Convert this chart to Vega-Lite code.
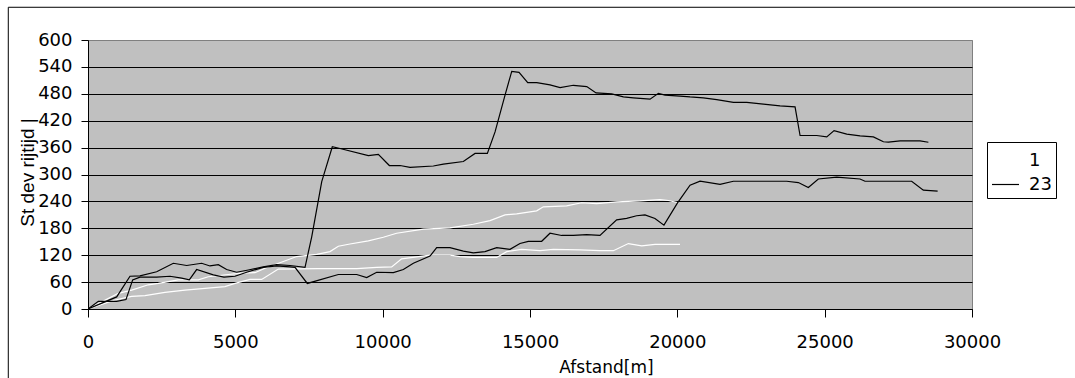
{
  "$schema": "https://vega.github.io/schema/vega-lite/v6.json",
  "width": 884,
  "height": 269,
  "autosize": {"type": "none"},
  "padding": {"left": 88, "top": 40, "right": 103, "bottom": 69},
  "background": "white",
  "config": {
    "view": {"fill": "#C0C0C0", "stroke": "#808080", "strokeWidth": 1},
    "axis": {
      "domainColor": "black", "tickColor": "black", "labelColor": "black", "titleColor": "black",
      "labelFont": "DejaVu Sans", "labelFontSize": 18, "titleFontWeight": "normal"
    },
    "legend": {
      "labelFont": "DejaVu Sans", "labelFontSize": 18, "labelColor": "black"
    }
  },
  "datasets": {
    "lines": [
      {"s":"W2","g":"1","x":0,"y":0},{"s":"W2","g":"1","x":916,"y":20},{"s":"W2","g":"1","x":1481,"y":28},{"s":"W2","g":"1","x":1934,"y":30},{"s":"W2","g":"1","x":2612,"y":37},{"s":"W2","g":"1","x":3291,"y":42},{"s":"W2","g":"1","x":3970,"y":46},{"s":"W2","g":"1","x":4648,"y":50},{"s":"W2","g":"1","x":4988,"y":57},{"s":"W2","g":"1","x":5498,"y":66},{"s":"W2","g":"1","x":5894,"y":66},{"s":"W2","g":"1","x":6459,"y":89},{"s":"W2","g":"1","x":7817,"y":90},{"s":"W2","g":"1","x":9118,"y":90},{"s":"W2","g":"1","x":9796,"y":93},{"s":"W2","g":"1","x":10305,"y":94},{"s":"W2","g":"1","x":10644,"y":112},{"s":"W2","g":"1","x":11607,"y":120},{"s":"W2","g":"1","x":12285,"y":120},{"s":"W2","g":"1","x":12625,"y":117},{"s":"W2","g":"1","x":13077,"y":115},{"s":"W2","g":"1","x":13869,"y":115},{"s":"W2","g":"1","x":14208,"y":128},{"s":"W2","g":"1","x":14717,"y":133},{"s":"W2","g":"1","x":15339,"y":130},{"s":"W2","g":"1","x":15791,"y":133},{"s":"W2","g":"1","x":16696,"y":132},{"s":"W2","g":"1","x":17375,"y":130},{"s":"W2","g":"1","x":17829,"y":130},{"s":"W2","g":"1","x":18338,"y":146},{"s":"W2","g":"1","x":18791,"y":141},{"s":"W2","g":"1","x":19243,"y":144},{"s":"W2","g":"1","x":20091,"y":144},
      {"s":"W1","g":"1","x":0,"y":0},{"s":"W1","g":"1","x":1029,"y":35},{"s":"W1","g":"1","x":1481,"y":42},{"s":"W1","g":"1","x":2047,"y":54},{"s":"W1","g":"1","x":2386,"y":57},{"s":"W1","g":"1","x":3065,"y":65},{"s":"W1","g":"1","x":3743,"y":65},{"s":"W1","g":"1","x":4083,"y":72},{"s":"W1","g":"1","x":4761,"y":77},{"s":"W1","g":"1","x":5214,"y":80},{"s":"W1","g":"1","x":5666,"y":81},{"s":"W1","g":"1","x":6007,"y":91},{"s":"W1","g":"1","x":6629,"y":106},{"s":"W1","g":"1","x":7081,"y":117},{"s":"W1","g":"1","x":7760,"y":122},{"s":"W1","g":"1","x":8212,"y":128},{"s":"W1","g":"1","x":8495,"y":140},{"s":"W1","g":"1","x":8891,"y":145},{"s":"W1","g":"1","x":9513,"y":152},{"s":"W1","g":"1","x":10022,"y":160},{"s":"W1","g":"1","x":10474,"y":169},{"s":"W1","g":"1","x":11381,"y":178},{"s":"W1","g":"1","x":12285,"y":181},{"s":"W1","g":"1","x":13077,"y":189},{"s":"W1","g":"1","x":13643,"y":197},{"s":"W1","g":"1","x":14152,"y":210},{"s":"W1","g":"1","x":14547,"y":212},{"s":"W1","g":"1","x":15226,"y":219},{"s":"W1","g":"1","x":15452,"y":228},{"s":"W1","g":"1","x":16244,"y":230},{"s":"W1","g":"1","x":16753,"y":237},{"s":"W1","g":"1","x":17262,"y":235},{"s":"W1","g":"1","x":17940,"y":239},{"s":"W1","g":"1","x":18732,"y":241},{"s":"W1","g":"1","x":19411,"y":244},{"s":"W1","g":"1","x":19696,"y":242},{"s":"W1","g":"1","x":20035,"y":237},
      {"s":"B2","g":"23","x":0,"y":0},{"s":"B2","g":"23","x":351,"y":17},{"s":"B2","g":"23","x":973,"y":17},{"s":"B2","g":"23","x":1289,"y":21},{"s":"B2","g":"23","x":1516,"y":65},{"s":"B2","g":"23","x":1764,"y":71},{"s":"B2","g":"23","x":2330,"y":71},{"s":"B2","g":"23","x":2782,"y":73},{"s":"B2","g":"23","x":3178,"y":69},{"s":"B2","g":"23","x":3438,"y":65},{"s":"B2","g":"23","x":3687,"y":88},{"s":"B2","g":"23","x":4253,"y":76},{"s":"B2","g":"23","x":4614,"y":71},{"s":"B2","g":"23","x":4988,"y":73},{"s":"B2","g":"23","x":5384,"y":82},{"s":"B2","g":"23","x":5949,"y":93},{"s":"B2","g":"23","x":6401,"y":96},{"s":"B2","g":"23","x":6854,"y":94},{"s":"B2","g":"23","x":7025,"y":93},{"s":"B2","g":"23","x":7443,"y":57},{"s":"B2","g":"23","x":8496,"y":77},{"s":"B2","g":"23","x":9119,"y":77},{"s":"B2","g":"23","x":9458,"y":70},{"s":"B2","g":"23","x":9797,"y":82},{"s":"B2","g":"23","x":10363,"y":81},{"s":"B2","g":"23","x":10702,"y":88},{"s":"B2","g":"23","x":11041,"y":102},{"s":"B2","g":"23","x":11607,"y":118},{"s":"B2","g":"23","x":11833,"y":137},{"s":"B2","g":"23","x":12285,"y":137},{"s":"B2","g":"23","x":12738,"y":129},{"s":"B2","g":"23","x":13077,"y":125},{"s":"B2","g":"23","x":13473,"y":128},{"s":"B2","g":"23","x":13869,"y":137},{"s":"B2","g":"23","x":14321,"y":133},{"s":"B2","g":"23","x":14660,"y":146},{"s":"B2","g":"23","x":14943,"y":151},{"s":"B2","g":"23","x":15396,"y":151},{"s":"B2","g":"23","x":15678,"y":169},{"s":"B2","g":"23","x":16074,"y":164},{"s":"B2","g":"23","x":16470,"y":164},{"s":"B2","g":"23","x":16922,"y":166},{"s":"B2","g":"23","x":17375,"y":164},{"s":"B2","g":"23","x":17940,"y":199},{"s":"B2","g":"23","x":18280,"y":202},{"s":"B2","g":"23","x":18619,"y":208},{"s":"B2","g":"23","x":18901,"y":210},{"s":"B2","g":"23","x":19241,"y":202},{"s":"B2","g":"23","x":19546,"y":187},{"s":"B2","g":"23","x":20001,"y":236},{"s":"B2","g":"23","x":20431,"y":276},{"s":"B2","g":"23","x":20771,"y":285},{"s":"B2","g":"23","x":21449,"y":278},{"s":"B2","g":"23","x":21902,"y":285},{"s":"B2","g":"23","x":23711,"y":285},{"s":"B2","g":"23","x":24107,"y":282},{"s":"B2","g":"23","x":24446,"y":271},{"s":"B2","g":"23","x":24785,"y":290},{"s":"B2","g":"23","x":25408,"y":294},{"s":"B2","g":"23","x":26199,"y":290},{"s":"B2","g":"23","x":26369,"y":285},{"s":"B2","g":"23","x":27952,"y":285},{"s":"B2","g":"23","x":28348,"y":265},{"s":"B2","g":"23","x":28834,"y":263},
      {"s":"B1","g":"23","x":0,"y":0},{"s":"B1","g":"23","x":973,"y":27},{"s":"B1","g":"23","x":1425,"y":73},{"s":"B1","g":"23","x":1764,"y":74},{"s":"B1","g":"23","x":2330,"y":83},{"s":"B1","g":"23","x":2895,"y":102},{"s":"B1","g":"23","x":3348,"y":97},{"s":"B1","g":"23","x":3857,"y":102},{"s":"B1","g":"23","x":4139,"y":96},{"s":"B1","g":"23","x":4422,"y":99},{"s":"B1","g":"23","x":4705,"y":88},{"s":"B1","g":"23","x":5044,"y":82},{"s":"B1","g":"23","x":5440,"y":87},{"s":"B1","g":"23","x":5949,"y":94},{"s":"B1","g":"23","x":6401,"y":99},{"s":"B1","g":"23","x":6854,"y":97},{"s":"B1","g":"23","x":7365,"y":93},{"s":"B1","g":"23","x":7592,"y":161},{"s":"B1","g":"23","x":7932,"y":284},{"s":"B1","g":"23","x":8291,"y":362},{"s":"B1","g":"23","x":8553,"y":358},{"s":"B1","g":"23","x":9514,"y":342},{"s":"B1","g":"23","x":9853,"y":345},{"s":"B1","g":"23","x":10227,"y":320},{"s":"B1","g":"23","x":10589,"y":320},{"s":"B1","g":"23","x":10929,"y":316},{"s":"B1","g":"23","x":11720,"y":319},{"s":"B1","g":"23","x":12060,"y":323},{"s":"B1","g":"23","x":12738,"y":329},{"s":"B1","g":"23","x":13135,"y":347},{"s":"B1","g":"23","x":13553,"y":347},{"s":"B1","g":"23","x":13814,"y":395},{"s":"B1","g":"23","x":14153,"y":477},{"s":"B1","g":"23","x":14380,"y":530},{"s":"B1","g":"23","x":14628,"y":528},{"s":"B1","g":"23","x":14923,"y":505},{"s":"B1","g":"23","x":15229,"y":505},{"s":"B1","g":"23","x":15680,"y":500},{"s":"B1","g":"23","x":16020,"y":494},{"s":"B1","g":"23","x":16472,"y":499},{"s":"B1","g":"23","x":16926,"y":496},{"s":"B1","g":"23","x":17242,"y":482},{"s":"B1","g":"23","x":17773,"y":480},{"s":"B1","g":"23","x":18169,"y":473},{"s":"B1","g":"23","x":18508,"y":471},{"s":"B1","g":"23","x":19074,"y":468},{"s":"B1","g":"23","x":19357,"y":481},{"s":"B1","g":"23","x":19583,"y":477},{"s":"B1","g":"23","x":20093,"y":475},{"s":"B1","g":"23","x":20432,"y":473},{"s":"B1","g":"23","x":20884,"y":471},{"s":"B1","g":"23","x":21337,"y":467},{"s":"B1","g":"23","x":21903,"y":461},{"s":"B1","g":"23","x":22356,"y":461},{"s":"B1","g":"23","x":22920,"y":457},{"s":"B1","g":"23","x":23486,"y":453},{"s":"B1","g":"23","x":23995,"y":451},{"s":"B1","g":"23","x":24165,"y":387},{"s":"B1","g":"23","x":24731,"y":387},{"s":"B1","g":"23","x":25071,"y":384},{"s":"B1","g":"23","x":25319,"y":398},{"s":"B1","g":"23","x":25750,"y":390},{"s":"B1","g":"23","x":26202,"y":386},{"s":"B1","g":"23","x":26653,"y":384},{"s":"B1","g":"23","x":26993,"y":373},{"s":"B1","g":"23","x":27163,"y":372},{"s":"B1","g":"23","x":27560,"y":375},{"s":"B1","g":"23","x":28238,"y":375},{"s":"B1","g":"23","x":28520,"y":372}
    ],
    "frame": [{"edge": "frame"}]
  },
  "layer": [
    {
      "data": {"name": "lines"},
      "mark": {"type": "line", "strokeWidth": 1.2, "clip": true},
      "encoding": {
        "x": {
          "field": "x", "type": "quantitative",
          "scale": {"domain": [0, 30000], "nice": false, "zero": false},
          "axis": {
            "values": [0, 5000, 10000, 15000, 20000, 25000, 30000], "tickCount": 20,
            "format": "d", "grid": false, "tickSize": 8, "labelOverlap": false,
            "labelBaseline": "alphabetic", "labelPadding": 30, "labelFlush": false,
            "title": "Afstand[m]", "titleFont": "DejaVu Sans", "titleFontSize": 17,
            "titleX": 518, "titleY": 63, "titleBaseline": "alphabetic", "titleAlign": "center"
          }
        },
        "y": {
          "field": "y", "type": "quantitative",
          "scale": {"domain": [0, 600], "nice": false},
          "axis": {
            "values": [0, 60, 120, 180, 240, 300, 360, 420, 480, 540, 600], "tickCount": 20,
            "grid": true, "labelOverlap": false,
            "gridColor": {"condition": {"test": "datum.value === 600", "value": "#808080"}, "value": "black"},
            "gridWidth": 1, "tickSize": 7, "labelPadding": 9, "labelFlush": false,
            "title": "St dev rijtijd |", "titleFont": "Liberation Sans", "titleFontSize": 19,
            "titleAngle": -90, "titleBaseline": "alphabetic", "titleAlign": "center",
            "titleX": -55, "titleY": 132
          }
        },
        "color": {
          "field": "g", "type": "nominal",
          "scale": {"domain": ["1", "23"], "range": ["#FFFFFF", "#000000"]},
          "legend": {
            "title": null, "orient": "none", "legendX": 899, "legendY": 102,
            "strokeColor": "black", "fillColor": "white", "padding": 4,
            "symbolType": "stroke", "symbolSize": 729, "symbolStrokeWidth": 1.2,
            "labelOffset": 9, "rowPadding": 0
          }
        },
        "detail": {"field": "s", "type": "nominal"}
      }
    },
    {
      "data": {"name": "frame"},
      "mark": {"type": "rule", "color": "black", "strokeWidth": 1},
      "encoding": {
        "x": {"datum": -2705, "type": "quantitative"},
        "y": {"datum": 673, "type": "quantitative"},
        "y2": {"datum": -170}
      }
    },
    {
      "data": {"name": "frame"},
      "mark": {"type": "rule", "color": "black", "strokeWidth": 1},
      "encoding": {
        "x": {"datum": -2705, "type": "quantitative"},
        "x2": {"datum": 34000},
        "y": {"datum": 673, "type": "quantitative"}
      }
    }
  ]
}
